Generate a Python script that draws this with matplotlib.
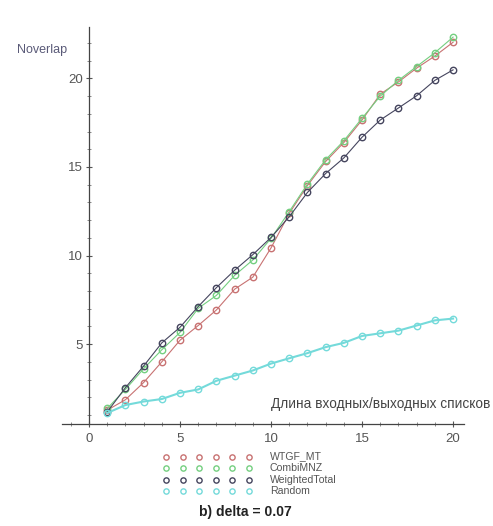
import matplotlib
matplotlib.use("Agg")
import matplotlib.pyplot as plt
from matplotlib.ticker import MultipleLocator

plt.rcParams['font.family'] = ['Liberation Sans', 'DejaVu Sans']

# List length
lengths = list(range(1, 21))

# Noverlap per method
wtgf_mt = [1.27, 1.86, 2.83, 4.00, 5.22, 6.05, 6.93, 8.10, 8.78, 10.43,
           12.38, 13.95, 15.31, 16.38, 17.65, 19.11, 19.80, 20.58, 21.26, 22.04]
combimnz = [1.37, 2.44, 3.61, 4.68, 5.66, 7.02, 7.75, 8.88, 9.75, 10.97,
            12.48, 14.04, 15.41, 16.48, 17.75, 19.00, 19.89, 20.67, 21.45, 22.33]
weighted_total = [1.17, 2.54, 3.76, 5.07, 5.95, 7.12, 8.19, 9.17, 10.05, 11.02,
                  12.19, 13.56, 14.63, 15.51, 16.68, 17.65, 18.33, 19.02, 19.89, 20.48]
random_sel = [1.11, 1.56, 1.76, 1.90, 2.25, 2.44, 2.93, 3.22, 3.51, 3.90,
              4.20, 4.49, 4.83, 5.07, 5.46, 5.61, 5.76, 6.05, 6.34, 6.44]

series_names = ["WTGF_MT", "CombiMNZ", "WeightedTotal", "Random"]
series_values = [wtgf_mt, combimnz, weighted_total, random_sel]
series_colors = ["#c87272", "#74cf80", "#45455e", "#74dada"]
line_widths = [0.8, 0.8, 0.8, 1.5]

x_ticks = [0, 5, 10, 15, 20]
y_ticks = [5, 10, 15, 20]

W, H = 493, 526
fig = plt.figure(figsize=(W / 100, H / 100), dpi=100)
fig.patch.set_facecolor("white")

ax = fig.add_axes([61.7 / W, 1 - 424 / H, (464 - 61.7) / W, (424 - 27) / H])
ax.set_xlim(-1.5, 20.6)
ax.set_ylim(0.49, 22.9)

for name, vals, col, lw in zip(series_names, series_values, series_colors, line_widths):
    ax.plot(lengths, vals, color=col, lw=lw, marker="o", ms=4.6,
            mfc="none", mec=col, mew=1.0, zorder=3)

# Axis styling: crossed axes, y axis at x = 0
for s in ("top", "right"):
    ax.spines[s].set_visible(False)
ax.spines["left"].set_position(("data", 0))
ax.spines["left"].set_color("#444444")
ax.spines["bottom"].set_color("#444444")
ax.spines["left"].set_linewidth(0.9)
ax.spines["bottom"].set_linewidth(0.9)

ax.set_xticks(x_ticks)
ax.set_yticks(y_ticks)
ax.xaxis.set_minor_locator(MultipleLocator(1))
ax.yaxis.set_minor_locator(MultipleLocator(1))
ax.tick_params(axis="both", which="major", direction="inout", length=5,
               width=0.8, color="#555555", labelsize=9.5, labelcolor="#555555")
ax.tick_params(axis="both", which="minor", direction="inout", length=3,
               width=0.6, color="#777777")
ax.tick_params(axis="x", pad=4)
ax.tick_params(axis="y", pad=2)

fig.text(17 / W, 1 - 50 / H, "Noverlap", fontsize=9, color="#5a5a78",
         ha="left", va="center")
fig.text(271 / W, 1 - 404 / H, "Длина входных/выходных списков", fontsize=9.8,
         color="#444444", ha="left", va="center")

# Legend: a row of open markers followed by the series name
leg = fig.add_axes([0, 0, 1, 1])
leg.set_xlim(0, W)
leg.set_ylim(H, 0)
leg.axis("off")
leg_x = [166, 182.5, 199, 215.5, 232, 248.5]
for i, (name, col) in enumerate(zip(series_names, series_colors)):
    yy = 456.5 + i * 11.6
    leg.plot(leg_x, [yy] * len(leg_x), ls="none", marker="o", ms=3.8,
             mfc="none", mec=col, mew=1.0)
    leg.text(270, yy, name, fontsize=7.6, color="#555555", ha="left",
             va="center")

fig.text(245 / W, 1 - 512 / H, "b) delta = 0.07", fontsize=10,
         fontweight="bold", color="#222222", ha="center", va="center")

fig.savefig("out.png", dpi=100, facecolor="white")
